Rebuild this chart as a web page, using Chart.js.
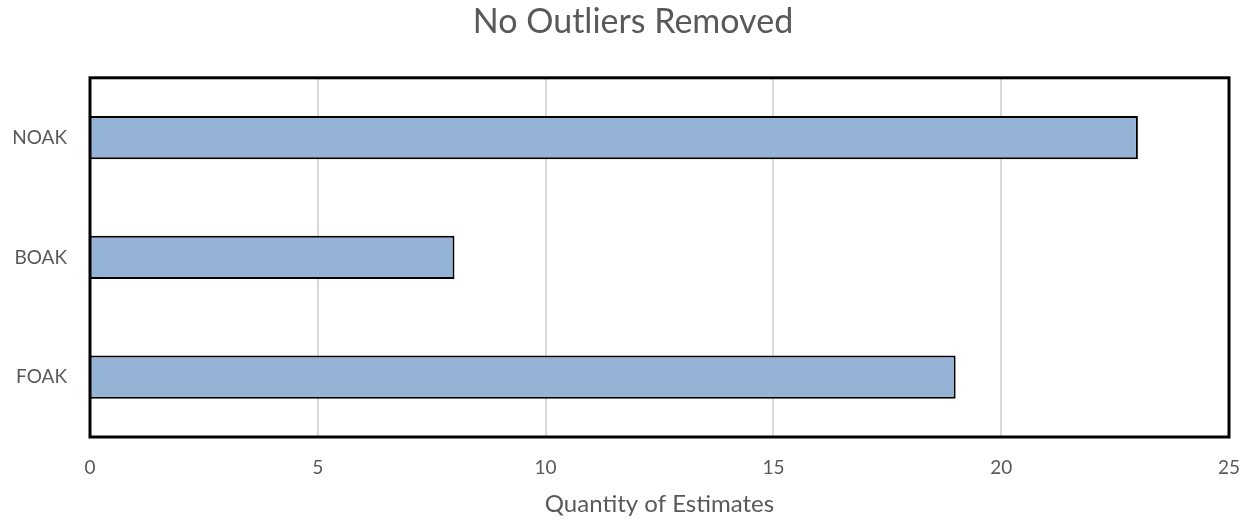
<!DOCTYPE html>
<html><head><meta charset="utf-8">
<script src="https://cdn.jsdelivr.net/npm/chart.js@4/dist/chart.umd.min.js"></script>
<style>html,body{margin:0;padding:0;background:#fff;}#wrap{width:1252px;height:522px;}</style>
</head><body><div id="wrap"><canvas id="c" width="1252" height="522"></canvas></div>
<script>
const categories = ["NOAK", "BOAK", "FOAK"];
const estimates = [23, 8, 19];
const xMin = 0, xMax = 25, xStep = 5;
const titleText = "No Outliers Removed";
const xAxisTitle = "Quantity of Estimates";

const FONT = "Lato, 'Open Sans', sans-serif";
const frame = {
  id: 'frame',
  afterLayout(chart) {
    if (chart.titleBlock) { chart.titleBlock.left += 37; }
  },
  afterDatasetsDraw(chart) {
    const a = chart.chartArea, ctx = chart.ctx;
    ctx.save(); ctx.strokeStyle = '#000'; ctx.lineWidth = 3;
    ctx.strokeRect(a.left, a.top, a.right - a.left, a.bottom - a.top);
    ctx.restore();
  }
};
new Chart(document.getElementById('c'), {
  type: 'bar',
  data: { labels: categories, datasets: [{ data: estimates, backgroundColor: '#95B3D7', borderColor: '#000', borderWidth: 2, barPercentage: 0.36, categoryPercentage: 1 }] },
  options: {
    indexAxis: 'y', responsive: false, animation: false,
    layout: { padding: { left: 0, right: 23, top: 0, bottom: 3 } },
    plugins: {
      legend: { display: false }, tooltip: { enabled: false },
      title: { display: true, text: titleText, color: '#595959', font: { family: FONT, size: 34, weight: 'normal' }, padding: { top: 2, bottom: 35 } }
    },
    scales: {
      x: { min: xMin, max: xMax, ticks: { stepSize: xStep, color: '#595959', font: { family: FONT, size: 19 }, padding: 19, maxRotation: 0 },
           grid: { color: '#D9D9D9', lineWidth: 2, drawTicks: false }, border: { display: false },
           title: { display: true, text: xAxisTitle, color: '#595959', font: { family: FONT, size: 24 }, padding: { top: 15, bottom: 0 } },
           afterFit(s) { s.height = 82; s.paddingLeft = 0; s.paddingRight = 0; } },
      y: { ticks: { color: '#595959', font: { family: FONT, size: 19 }, padding: 23 },
           grid: { display: false, drawTicks: false }, border: { display: false },
           afterFit(s) { s.width = 90; s.paddingTop = 0; s.paddingBottom = 0; } }
    }
  },
  plugins: [frame]
});
</script></body></html>
